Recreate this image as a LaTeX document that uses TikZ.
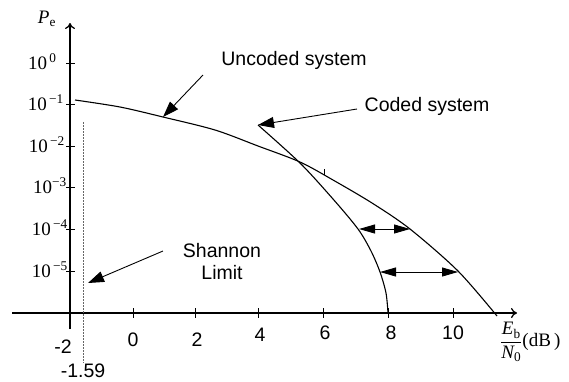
\documentclass[tikz,border=0pt]{standalone}
\usepackage{fontspec}
\usepackage{amsmath}
\setmainfont{Liberation Serif}
\newfontfamily\arialfont{Liberation Sans}
\usetikzlibrary{arrows.meta}
\begin{document}
\begin{tikzpicture}[x=1pt,y=-1pt,
  lab/.style={font=\arialfont\fontsize{19.5}{22}\selectfont, text=black, inner sep=0pt},
  ylab/.style={font=\fontsize{19}{21}\selectfont, inner sep=0pt, anchor=base east},
  axis/.style={line width=1.3pt},
  curve/.style={line width=1.1pt},
  pointer/.style={line width=0.9pt, -{Triangle[length=16pt,width=11pt]}},
  twohead/.style={line width=0.9pt, {Triangle[length=16pt,width=9pt]}-{Triangle[length=16pt,width=9pt]}},
  tick/.style={line width=1pt}]
\useasboundingbox (0,0) rectangle (569,381);
% axes
\coordinate (xs) at (12,313);
\coordinate (xe) at (517,313);
\coordinate (ys) at (70,329);
\coordinate (ye) at (70,23);
\draw[axis,-{To[length=6pt,width=10pt]}] (xs) -- (xe);
\draw[axis,-{To[length=6pt,width=10pt]}] (ys) -- (ye);
% y ticks and labels
\foreach \yy in {63,104,146,187,229,271}{
  \draw[tick] (66,\yy) -- (75,\yy);
}
\node[ylab,anchor=base west] (y0) at (28,69) {10\textsuperscript{\,0}};
\node[ylab] (y1) at (64,110) {10\textsuperscript{\,\textminus1}};
\node[ylab] (y2) at (65,152) {10\textsuperscript{\,\textminus2}};
\node[ylab] (y3) at (67,193) {10\textsuperscript{\textminus3}};
\node[ylab] (y4) at (68,235) {10\textsuperscript{\,\textminus4}};
\node[ylab] (y5) at (68,277) {10\textsuperscript{\,\textminus5}};
\node[font=\fontsize{19}{21}\selectfont, inner sep=0pt] (pe) at (47,19) {\textit{P}\textsubscript{e}};
% x ticks and labels
\foreach \xx in {133,195,258,323,388,453}{
  \draw[tick] (\xx,308) -- (\xx,318);
}
\node[lab] (xm2) at (63,347) {-2};
\node[lab] (x0) at (133,340) {0};
\node[lab] (x2) at (197,340) {2};
\node[lab] (x4) at (260,335) {4};
\node[lab] (x6) at (325,333) {6};
\node[lab] (x8) at (391,333) {8};
\node[lab] (x10) at (453,333) {10};
\node[lab] (x159) at (83,371) {-1.59};
\node[font=\fontsize{19}{21}\selectfont, inner sep=0pt, anchor=west] (xlab) at (500,342)
  {$\dfrac{\textit{E}_{\text{b}}}{\textit{N}_{\text{0}}}$(dB\,)};
% Shannon limit line
\coordinate (sl1) at (83,122);
\coordinate (sl2) at (83,363);
\draw[gray!80!black, line width=0.9pt, dash pattern=on 2pt off 1pt] (sl1) -- (sl2);
% uncoded curve
\draw[curve] plot[smooth, tension=0.5] coordinates {(75,100) (120,107) (163,117) (215,130) (258,146) (300,162) (333,180) (372,203) (410,229) (458,271) (497,316)};
\draw[line width=0.9pt] (324,169) -- (324,175);
% coded curve
\draw[curve] plot[smooth, tension=0.5] coordinates {(258,125) (300,163) (333,199) (358,229) (371,251) (380,272) (386,293) (388,313)};
% double arrows
\coordinate (a1) at (359,229);
\coordinate (a2) at (410,229);
\coordinate (b1) at (380,272);
\coordinate (b2) at (458,272);
\draw[twohead] (a1) -- (a2);
\draw[twohead] (b1) -- (b2);
% labels with pointers
\node[lab] (unc) at (294,60) {Uncoded system};
\node[lab] (cod) at (427,106) {Coded system};
\node[lab, align=center] (sha) at (222,262) {Shannon\\[0pt]Limit};
\coordinate (ua) at (203,75);
\coordinate (ub) at (163,117);
\coordinate (ca) at (357,109);
\coordinate (cb) at (258,125);
\coordinate (sa) at (163,251);
\coordinate (sb) at (88,283);
\draw[pointer] (ua) -- (ub);
\draw[pointer] (ca) -- (cb);
\draw[pointer] (sa) -- (sb);
\end{tikzpicture}
\end{document}
